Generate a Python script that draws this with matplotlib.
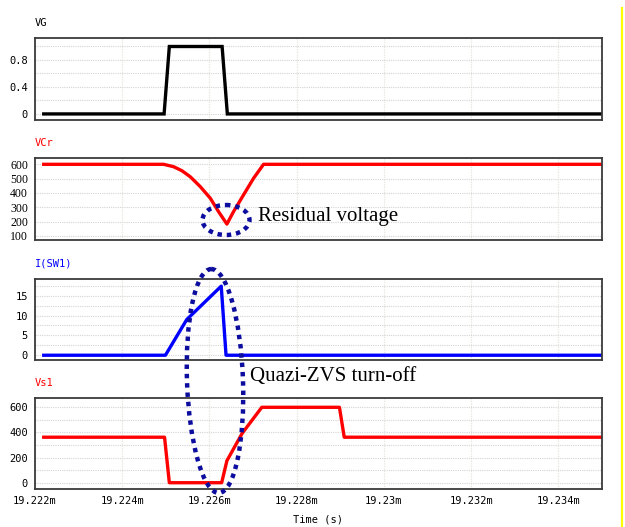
import numpy as np
import matplotlib
matplotlib.use('Agg')
from matplotlib import pyplot as plt
from matplotlib.patches import Ellipse
from matplotlib.ticker import MultipleLocator, FixedLocator

# time axis in ms
t_vg = [19.2222, 19.22496, 19.22508, 19.22629, 19.22641, 19.235]
vg = [0, 0, 1, 1, 0, 0]

t_vcr = [19.2222, 19.22495, 19.22518, 19.22537, 19.22556, 19.22579, 19.22602,
         19.22621, 19.22640, 19.22655, 19.22678, 19.22701, 19.22724, 19.235]
vcr = [600, 600, 583, 555, 513, 444, 363, 269, 183, 269, 386, 502, 600, 600]

t_isw = [19.2222, 19.22499, 19.22548, 19.22627, 19.22638, 19.235]
isw = [0, 0, 9, 17.4, 0, 0]

t_vs1 = [19.2222, 19.22497, 19.22508, 19.22628, 19.22640, 19.22675, 19.2272,
         19.22898, 19.22909, 19.235]
vs1 = [362, 362, 0, 0, 175, 393, 600, 600, 362, 362]

xticks = [19.222, 19.224, 19.226, 19.228, 19.23, 19.232, 19.234]
xticklabels = ['19.222m', '19.224m', '19.226m', '19.228m', '19.23m', '19.232m', '19.234m']

mono = 'DejaVu Sans Mono'
W, H = 625, 527
fig = plt.figure(figsize=(W / 100, H / 100), dpi=100)

def px_axes(top, bottom):
    return fig.add_axes([35 / W, 1 - bottom / H, (602 - 35) / W, (bottom - top) / H])

def style(ax, ymin, ymax, ticks, labels, gstep, tick_font=mono, tick_size=7.5):
    ax.set_xlim(19.222, 19.235)
    ax.set_ylim(ymin, ymax)
    ax.xaxis.set_major_locator(FixedLocator(xticks))
    ax.set_yticks(ticks)
    ax.set_yticklabels(labels, family=tick_font, fontsize=tick_size)
    ax.yaxis.set_minor_locator(MultipleLocator(gstep))
    ax.tick_params(which='both', length=0, pad=5)
    ax.grid(True, axis='x', color='#e2e6dc', linestyle=(0, (1, 1)), linewidth=0.9)
    ax.grid(True, axis='y', which='both', color='#d4d4d4', linestyle=(0, (1, 1)), linewidth=0.8)
    for s in ax.spines.values():
        s.set_color('#3a3a3a')
        s.set_linewidth(1.3)
    ax.set_axisbelow(True)

ax1 = px_axes(38, 120)
ax1.plot(t_vg, vg, color='black', lw=2.4, solid_joinstyle='miter')
style(ax1, -0.09, 1.126, [0, 0.4, 0.8], ['0', '0.4', '0.8'], 0.2)
ax1.set_xticklabels([])

ax2 = px_axes(158, 240)
ax2.plot(t_vcr, vcr, color='#ff0000', lw=2.4)
style(ax2, 72, 644, [100, 200, 300, 400, 500, 600],
      ['100', '200', '300', '400', '500', '600'], 100,
      tick_font='Liberation Serif', tick_size=8.5)
ax2.set_xticklabels([])

ax3 = px_axes(279, 360)
ax3.plot(t_isw, isw, color='#0000ff', lw=2.4)
style(ax3, -1.2, 19.2, [0, 5, 10, 15], ['0', '5', '10', '15'], 2.5)
ax3.set_xticklabels([])

ax4 = px_axes(398, 489)
ax4.plot(t_vs1, vs1, color='#ff0000', lw=2.4)
style(ax4, -50, 674, [0, 200, 400, 600], ['0', '200', '400', '600'], 100)
ax4.set_xticklabels(xticklabels, family=mono, fontsize=7.5)

# overlay in pixel coordinates for titles and annotations
ov = fig.add_axes([0, 0, 1, 1], zorder=10)
ov.set_xlim(0, W)
ov.set_ylim(H, 0)
ov.axis('off')
ov.patch.set_alpha(0)

ov.text(35, 23, 'VG', family=mono, fontsize=7.5, color='black', va='center')
ov.text(35, 143, 'VCr', family=mono, fontsize=7.5, color='#ff0000', va='center')
ov.text(35, 264, 'I(SW1)', family=mono, fontsize=7.5, color='#0000ff', va='center')
ov.text(35, 383, 'Vs1', family=mono, fontsize=7.5, color='#ff0000', va='center')
ov.text(318, 520, 'Time (s)', family=mono, fontsize=7.5, color='black', ha='center', va='center')

navy = '#0c0c9e'
ov.add_patch(Ellipse((226, 220), 47, 30, fill=False, edgecolor=navy,
                     lw=3.2, linestyle=(0, (1, 1.1))))
ov.add_patch(Ellipse((215, 381), 56, 224, angle=-2, fill=False, edgecolor=navy,
                     lw=3.2, linestyle=(0, (1, 1.1))))
ov.text(258, 216, 'Residual voltage', family='Liberation Serif', fontsize=15,
        va='center', color='black')
ov.text(250, 376, 'Quazi-ZVS turn-off', family='Liberation Serif', fontsize=15,
        va='center', color='black')

ov.plot([622, 622], [8, H], color='#ffff00', lw=1.6)

fig.savefig('out.png', dpi=100, facecolor='white')
